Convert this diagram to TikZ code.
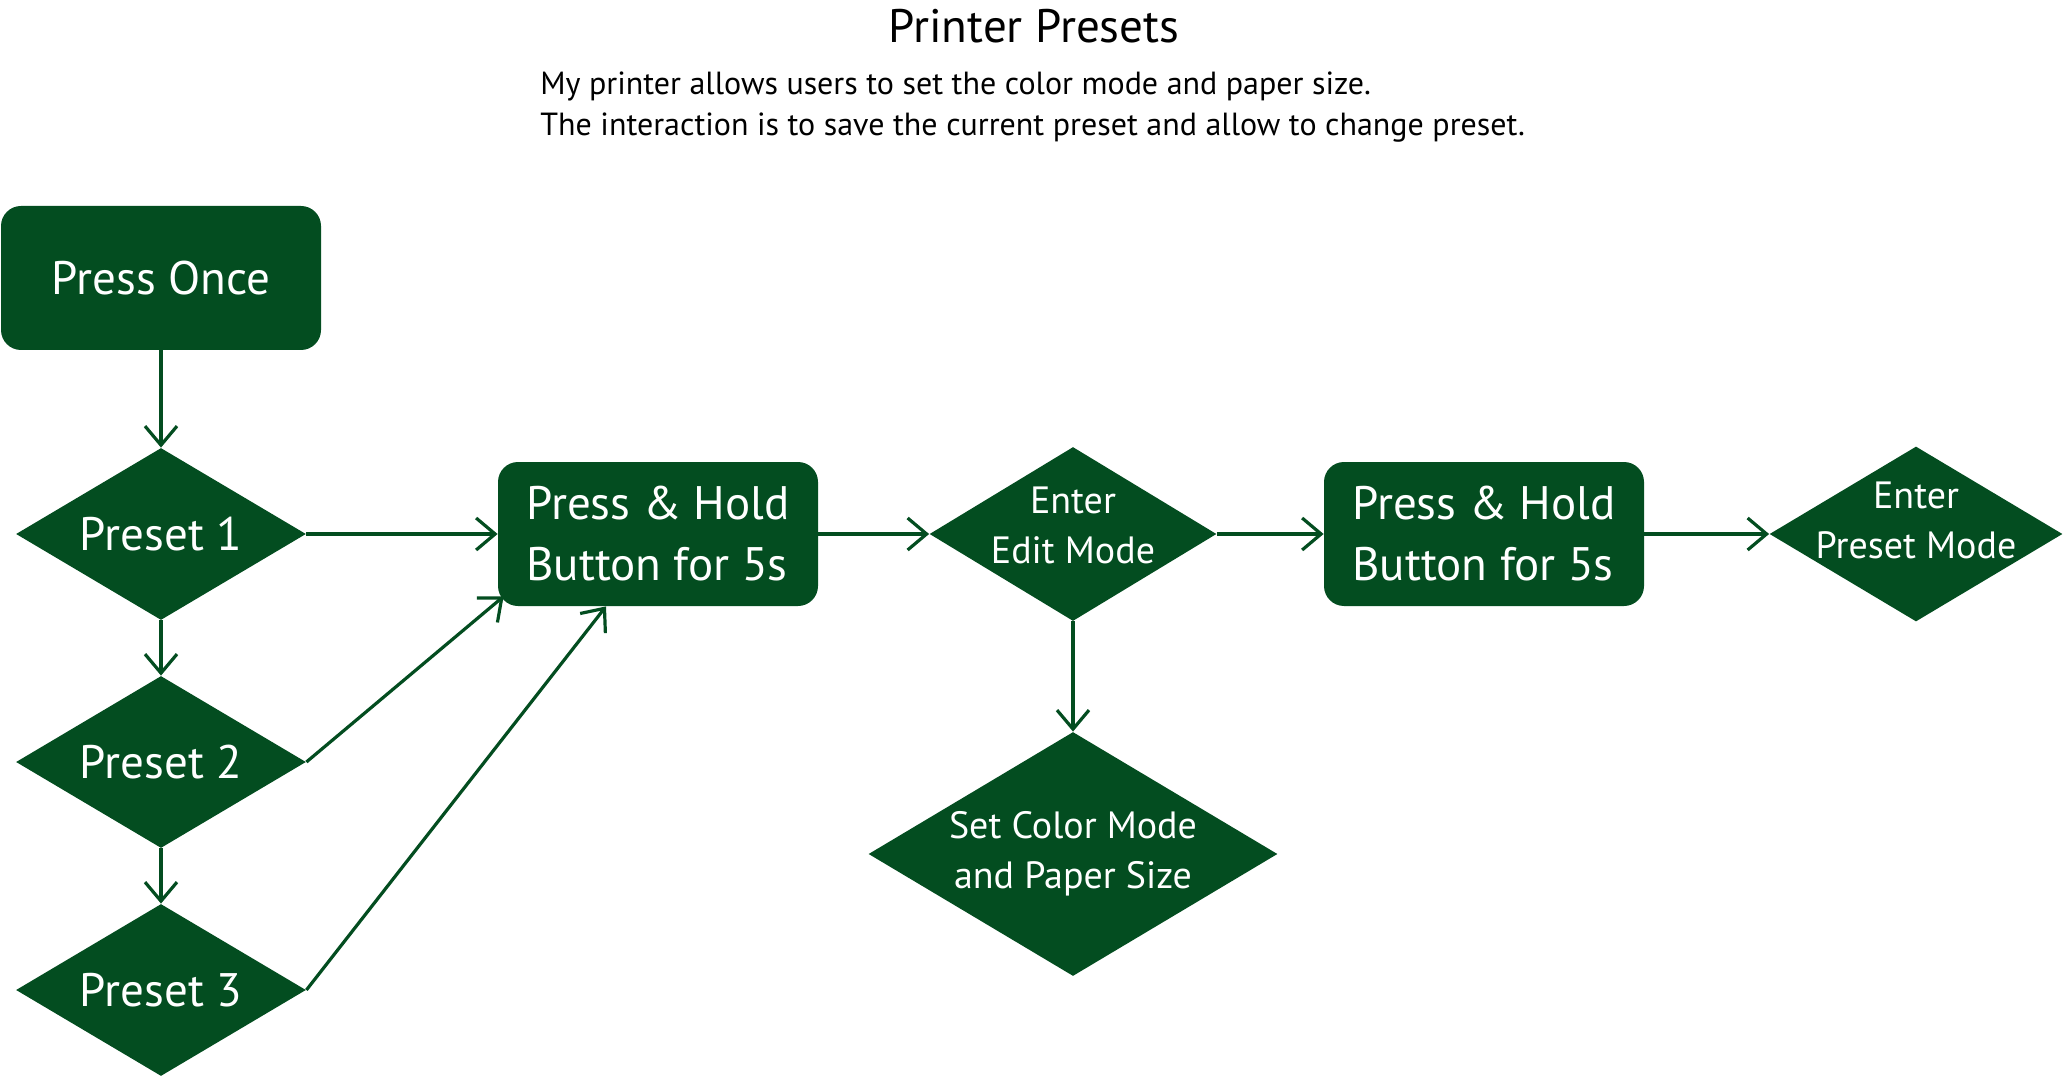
\documentclass[tikz,border=0pt]{standalone}
\usepackage{fontspec}
\setmainfont{PT Sans}
\usetikzlibrary{shapes.geometric,arrows.meta,positioning}
\definecolor{prgreen}{RGB}{3,77,32}

\begin{document}
\begin{tikzpicture}[x=0.5pt, y=-0.5pt, node distance=114pt,
    every node/.style={font=\fontsize{23.5}{30.5}\selectfont},
    box/.style={rectangle, rounded corners=10pt, fill=prgreen, text=white, align=left,
      minimum width=160pt, minimum height=72pt, inner sep=0pt},
    dia/.style={diamond, fill=prgreen, inner sep=0pt, minimum width=145pt, minimum height=86pt},
    txt/.style={text=white, align=center},
    small/.style={font=\fontsize{19}{25}\selectfont},
    link/.style={draw=prgreen, line width=1.6pt, -{Straight Barb[length=9.5pt,width=16pt]}}]
    \useasboundingbox (0,0) rectangle (2065,1080);

    % heading
    \node[font=\fontsize{23.5}{28}\selectfont] (title) at (1034,26) {Printer Presets};
    \node[anchor=west, align=left, inner sep=0pt, font=\fontsize{16}{20.5}\selectfont] (desc) at (540,107)
      {My printer allows users to set the color mode and paper size.\\
       The interaction is to save the current preset and allow to change preset.};

    % left column
    \node[dia, label={[txt]center:Preset 1}] (p1) at (161,534) {};
    \node[box, node distance=128pt, above of=p1] (once) {Press Once};
    \node[dia, label={[txt]center:Preset 2}] (p2) [below of=p1] {};
    \node[dia, label={[txt]center:Preset 3}] (p3) [below of=p2] {};

    % main row
    \node[box] (ph1) at (658,534) {Press \& Hold\\Button for 5s};
    \node[dia, minimum width=143.5pt, minimum height=87pt,
      label={[txt, small, yshift=4.5pt]center:{Enter\\Edit Mode}}] (edit) at (1073,534) {};
    \node[box] (ph2) at (1484,534) {Press \& Hold\\Button for 5s};
    \node[dia, minimum width=146.5pt, minimum height=87.5pt,
      label={[txt, small, yshift=7pt]center:{Enter\\Preset Mode}}] (pmode) at (1916,534) {};
    \node[dia, minimum width=204.5pt, minimum height=122pt,
      label={[txt, small]center:{Set Color Mode\\and Paper Size}}] (setc) at (1073,854) {};

    \draw[link] (once) -- (p1);
    \draw[link] (p1) -- (p2);
    \draw[link] (p2) -- (p3);
    \draw[link] (p1) -- (ph1);
    \draw[link] (p2.east) -- ([shift={(3pt,5pt)}]ph1.south west);
    \draw[link] (p3.east) -- ([xshift=-26pt]ph1.south);
    \draw[link] (ph1) -- (edit);
    \draw[link] (edit) -- (ph2);
    \draw[link] (ph2) -- (pmode);
    \draw[link] (edit) -- (setc);
\end{tikzpicture}
\end{document}
